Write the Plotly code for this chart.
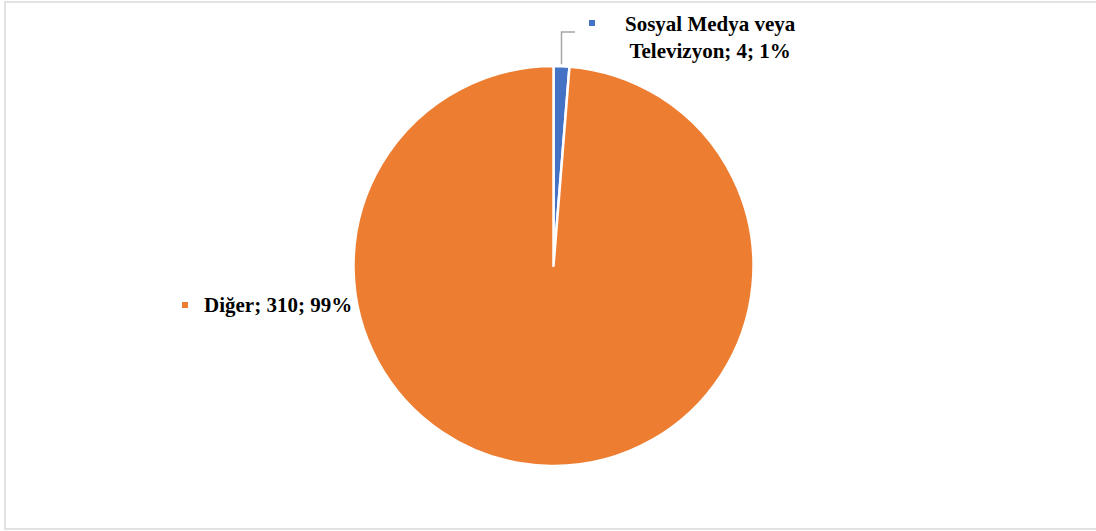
import math
import plotly.graph_objects as go

# Data
categories = ["Sosyal Medya veya Televizyon", "Diğer"]
values = [4, 310]
colors = ["#4472C4", "#ED7D31"]

W, H = 1096, 531
total = sum(values)
pcts = [round(v / total * 100) for v in values]


def px(x):
    return x / W


def py(y):
    return 1 - y / H


# Pie geometry (pixels)
cx, cy, r = 553.5, 266, 200

fig = go.Figure(
    go.Pie(
        labels=categories,
        values=values,
        marker=dict(colors=colors, line=dict(color="white", width=2.5)),
        sort=False,
        direction="clockwise",
        rotation=0,
        textinfo="none",
        hoverinfo="label+value+percent",
        domain=dict(x=[px(cx - r), px(cx + r)], y=[py(cy + r), py(cy - r)]),
    )
)

font = dict(family="Times New Roman", size=21, color="#000000")

# Leader line for the small slice, starting at its mid-angle on the rim
mid = values[0] / total * 360 / 2
sx = cx + r * math.sin(math.radians(mid))
sy = cy - r * math.cos(math.radians(mid)) - 2
shapes = [
    dict(type="path", xref="paper", yref="paper",
         path=f"M {px(sx)} {py(sy)} L {px(sx)} {py(32)} L {px(575)} {py(32)}",
         line=dict(color="#A6A6A6", width=1.5)),
    # chart border
    dict(type="rect", xref="paper", yref="paper",
         x0=px(5), y0=py(529), x1=px(1100), y1=py(2),
         line=dict(color="#D9D9D9", width=1.5), fillcolor="rgba(0,0,0,0)"),
    # legend keys next to the labels
    dict(type="rect", xref="paper", yref="paper",
         x0=px(589), y0=py(26), x1=px(595), y1=py(20),
         fillcolor=colors[0], line=dict(width=0)),
    dict(type="rect", xref="paper", yref="paper",
         x0=px(182), y0=py(308), x1=px(188), y1=py(302),
         fillcolor=colors[1], line=dict(width=0)),
]

annotations = [
    dict(xref="paper", yref="paper", x=px(710), y=py(37), xanchor="center", yanchor="middle",
         text=f"<b>Sosyal Medya veya<br>Televizyon; {values[0]}; {pcts[0]}%</b>",
         showarrow=False, font=font, align="center"),
    dict(xref="paper", yref="paper", x=px(202), y=py(305), xanchor="left", yanchor="middle",
         text=f"<b>{categories[1]}; {values[1]}; {pcts[1]}%</b>",
         showarrow=False, font=font, align="left"),
]

fig.update_layout(
    width=W, height=H,
    margin=dict(l=0, r=0, t=0, b=0),
    paper_bgcolor="white",
    plot_bgcolor="white",
    showlegend=False,
    shapes=shapes,
    annotations=annotations,
)

fig.write_html("out.html")
